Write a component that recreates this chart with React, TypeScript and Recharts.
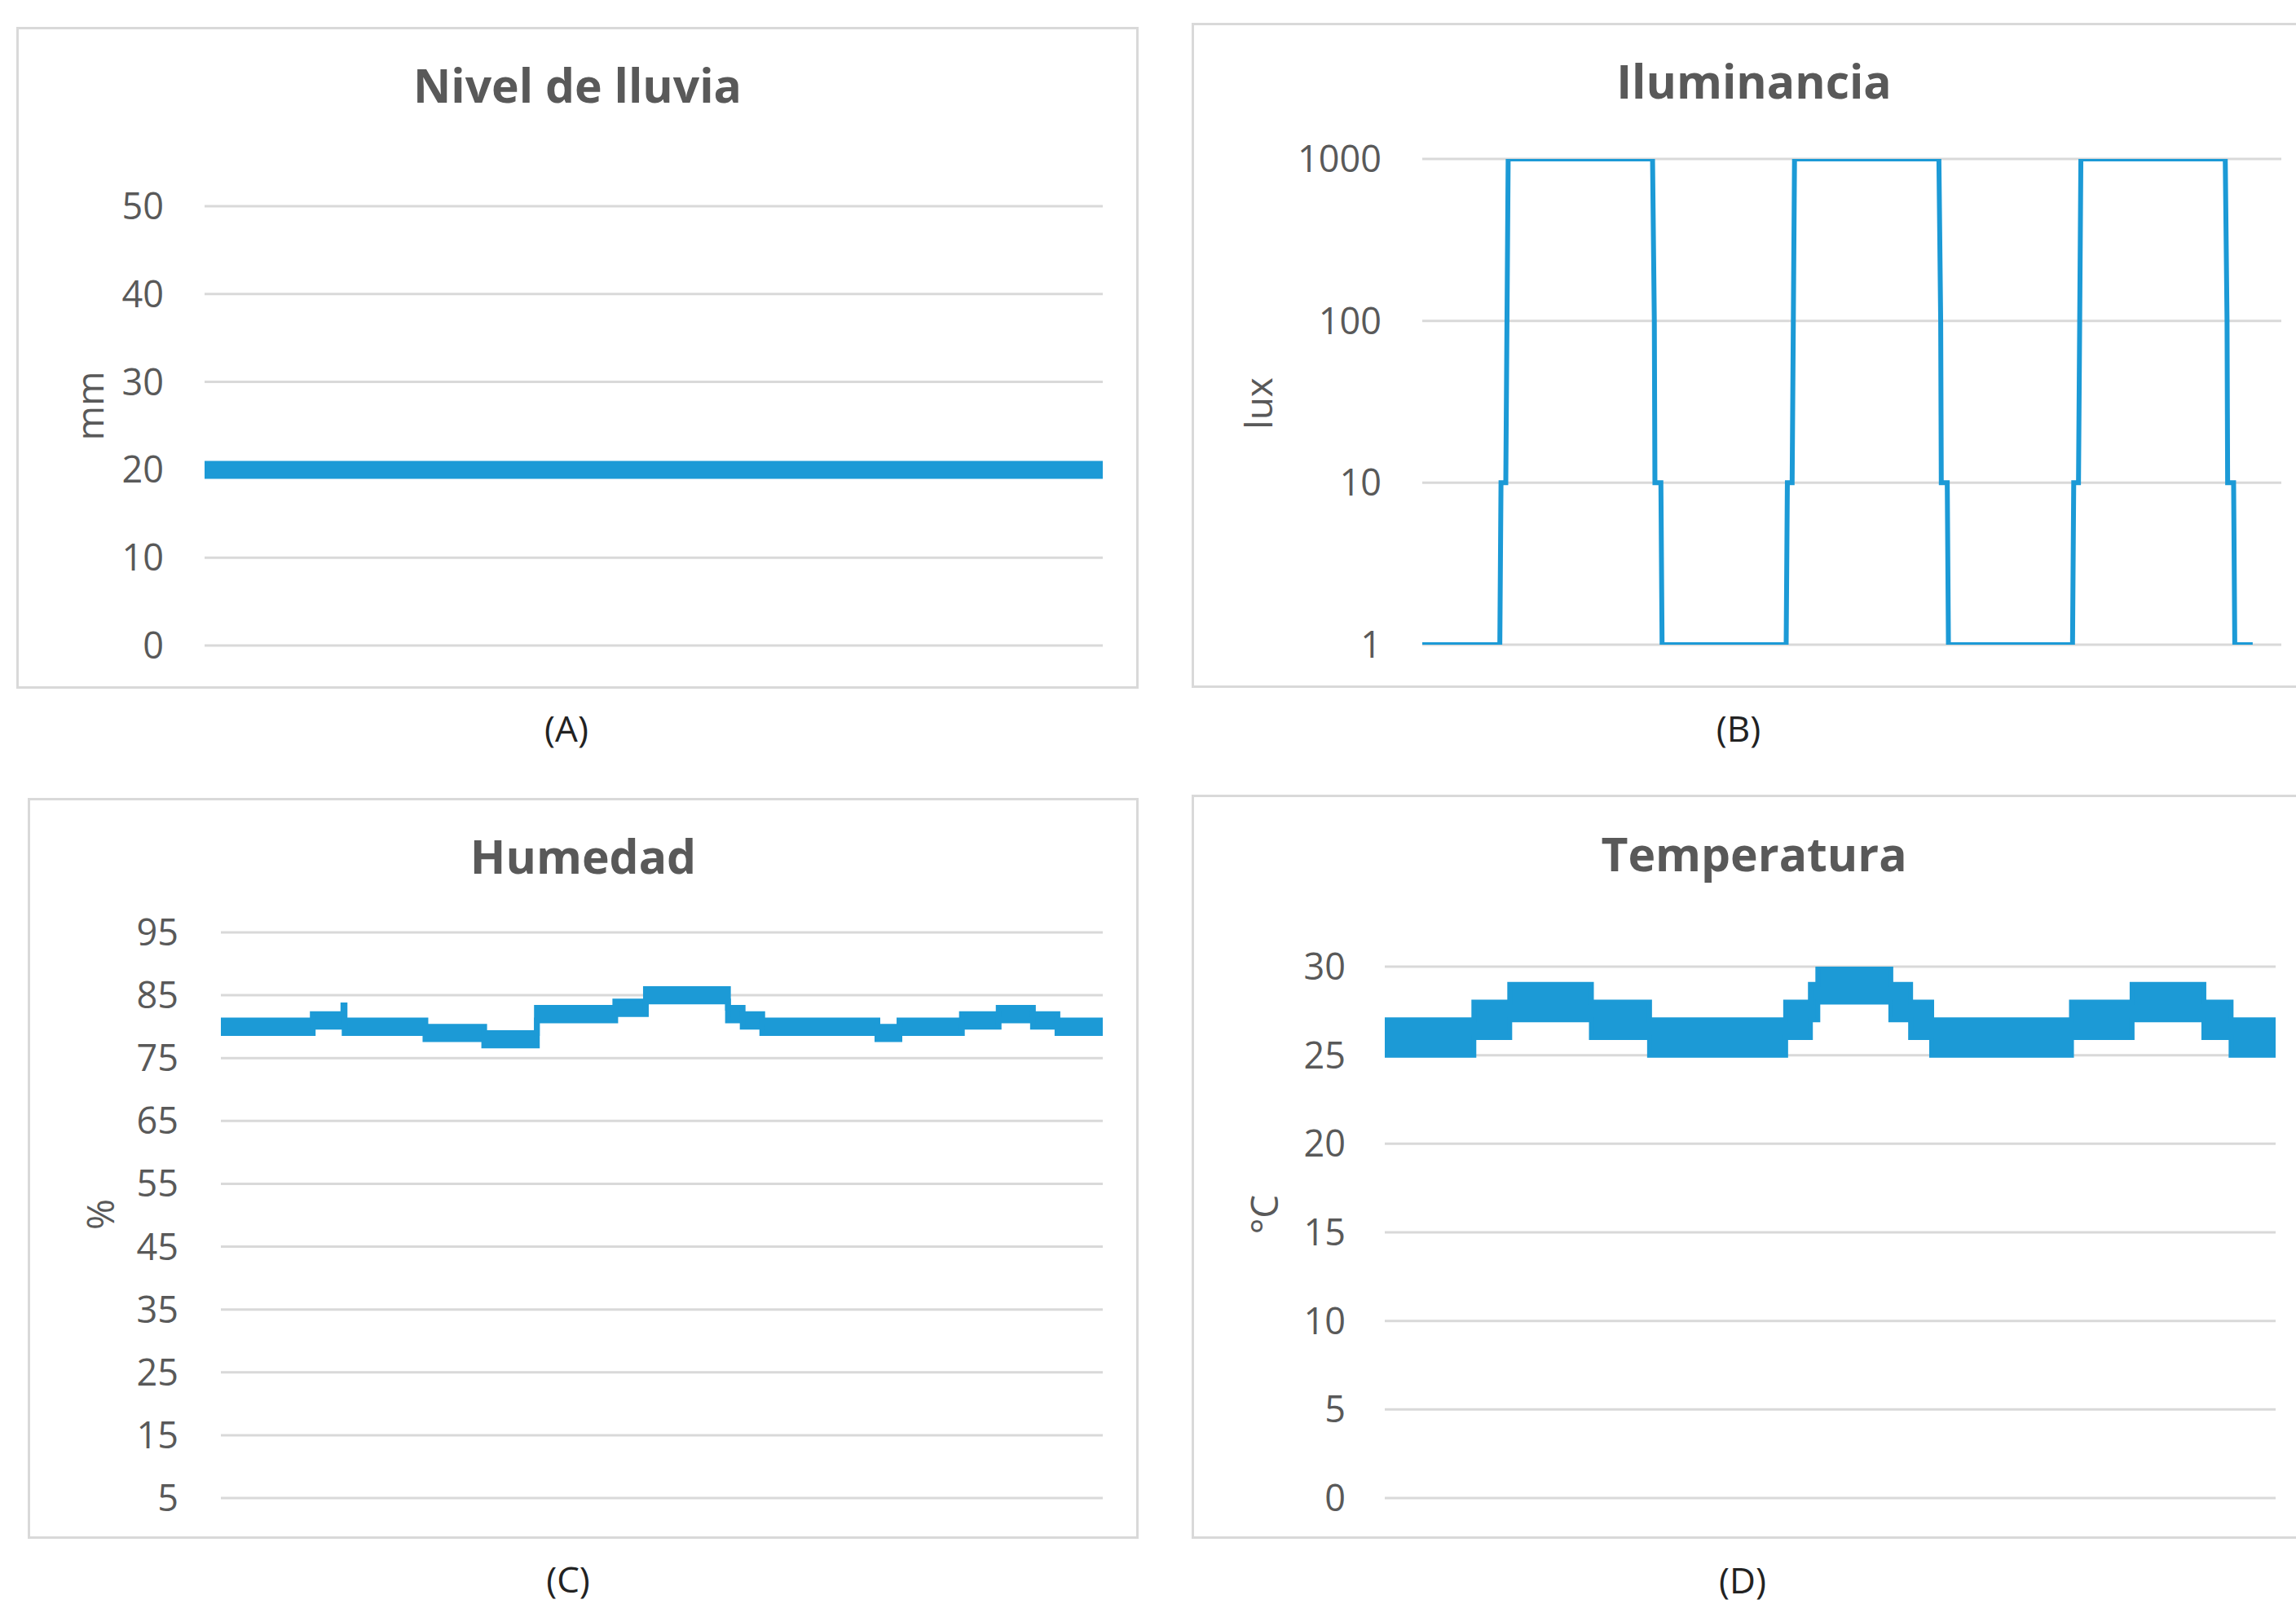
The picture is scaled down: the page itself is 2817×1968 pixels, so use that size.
import type { ReactNode } from "react"
import { ComposedChart, Line, Area, XAxis, YAxis, CartesianGrid } from "recharts"

const BLUE = "#1c9ad6"
const GRID = "#d9d9d9"
const TEXT = "#595959"
const FONT = "'Open Sans', sans-serif"

// Nivel de lluvia (mm) - hours over 3 days
const rainHours = [0, 72]
const rainLevel = [20, 20]
const rainTicks = [0, 10, 20, 30, 40, 50]

// Iluminancia (lux), log axis
const luxHours = [
  0, 6.5, 6.6, 7.0, 7.1, 7.2, 19.3, 19.45, 19.5, 20.0, 20.1,
  30.5, 30.6, 31.0, 31.1, 31.2, 43.3, 43.45, 43.5, 44.0, 44.1,
  54.5, 54.6, 55.0, 55.1, 55.2, 67.3, 67.45, 67.5, 68.0, 68.1, 69.6,
]
const luxValues = [
  1, 1, 10, 10, 100, 1000, 1000, 100, 10, 10, 1,
  1, 10, 10, 100, 1000, 1000, 100, 10, 10, 1,
  1, 10, 10, 100, 1000, 1000, 100, 10, 10, 1, 1,
]
const luxTicks = [1, 10, 100, 1000]

// Humedad (%) - band of readings per step
const humHours = [0, 7.5, 10.0, 10.1, 16.7, 21.5, 25.8, 32.2, 34.7, 41.4, 42.6, 44.2, 53.6, 55.4, 60.5, 63.5, 66.3, 68.3, 72]
const humLow = [79, 80, 80, 79, 78, 77, 81, 82, 84, 81, 80, 79, 78, 79, 80, 81, 80, 79, 79]
const humHigh = [81, 82, 83.4, 81, 80, 79, 83, 84, 86, 83, 82, 81, 80, 81, 82, 83, 82, 81, 81]
const humTicks = [5, 15, 25, 35, 45, 55, 65, 75, 85, 95]

// Temperatura (°C)
const tempHours = [0, 7.2, 10.1, 16.7, 21.4, 32.4, 34.4, 35.0, 40.9, 42.5, 44.2, 55.5, 60.4, 66.2, 68.4, 72]
const tempLow = [25, 26, 27, 26, 25, 26, 27, 28, 27, 26, 25, 26, 27, 26, 25, 25]
const tempHigh = [27, 28, 29, 28, 27, 28, 29, 30, 29, 28, 27, 28, 29, 28, 27, 27]
const tempTicks = [0, 5, 10, 15, 20, 25, 30]

const rainData = rainHours.map((t, i) => ({ t, v: rainLevel[i] }))
const luxData = luxHours.map((t, i) => ({ t, v: luxValues[i] }))
const humData = humHours.map((t, i) => ({ t, range: [humLow[i], humHigh[i]] }))
const tempData = tempHours.map((t, i) => ({ t, range: [tempLow[i], tempHigh[i]] }))

type Rect = { left: number; top: number; right: number; bottom: number }

function Panel({
  box,
  plot,
  title,
  titleY,
  unit,
  unitX,
  unitY,
  caption,
  captionX,
  captionY,
  data,
  ticks,
  domain,
  log,
  gap,
  children,
}: {
  box: Rect
  plot: Rect
  title: string
  titleY: number
  unit: string
  unitX: number
  unitY: number
  caption: string
  captionX: number
  captionY: number
  data: object[]
  ticks: number[]
  domain: [number, number]
  log?: boolean
  gap: number
  children: ReactNode
}) {
  const w = box.right - box.left
  const h = box.bottom - box.top
  return (
    <>
      <div
        style={{
          position: "absolute",
          left: box.left,
          top: box.top,
          width: w,
          height: h,
          boxSizing: "border-box",
          border: `3px solid ${GRID}`,
          background: "#fff",
        }}
      />
      <div style={{ position: "absolute", left: box.left, top: box.top }}>
        <ComposedChart
          width={w}
          height={h}
          data={data}
          margin={{
            top: plot.top - box.top,
            right: box.right - plot.right,
            bottom: box.bottom - plot.bottom,
            left: 0,
          }}
        >
          <CartesianGrid vertical={false} stroke={GRID} strokeWidth={3} />
          <XAxis type="number" dataKey="t" domain={[0, 72]} hide />
          <YAxis
            type="number"
            scale={log ? "log" : "auto"}
            domain={domain}
            ticks={ticks}
            interval={0}
            allowDataOverflow
            width={plot.left - box.left}
            axisLine={false}
            tickLine={false}
            tickSize={0}
            tickMargin={gap}
            tick={{ fill: TEXT, fontSize: 45, fontFamily: FONT }}
          />
          {children}
        </ComposedChart>
      </div>
      <div
        style={{
          position: "absolute",
          left: (box.left + box.right) / 2,
          top: titleY,
          transform: "translate(-50%, -50%)",
          fontFamily: FONT,
          fontWeight: 700,
          fontSize: 57,
          lineHeight: 1,
          color: TEXT,
          whiteSpace: "nowrap",
        }}
      >
        {title}
      </div>
      <div
        style={{
          position: "absolute",
          left: unitX,
          top: unitY,
          transform: "translate(-50%, -50%) rotate(-90deg)",
          fontFamily: FONT,
          fontSize: 46,
          lineHeight: 1,
          color: TEXT,
          whiteSpace: "nowrap",
        }}
      >
        {unit}
      </div>
      <div
        style={{
          position: "absolute",
          left: captionX,
          top: captionY,
          transform: "translate(-50%, -50%)",
          fontFamily: FONT,
          fontSize: 44,
          lineHeight: 1.1,
          color: "#222",
          whiteSpace: "nowrap",
        }}
      >
        {caption}
      </div>
    </>
  )
}

export default function App() {
  return (
    <div
      style={{
        position: "absolute",
        left: 0,
        top: 0,
        width: 2817,
        height: 1968,
        overflow: "hidden",
        background: "#fff",
      }}
    >
      <Panel
        box={{ left: 20, top: 33, right: 1397, bottom: 845 }}
        plot={{ left: 251, top: 253, right: 1353, bottom: 792 }}
        title="Nivel de lluvia"
        titleY={104}
        unit="mm"
        unitX={109}
        unitY={498}
        caption="(A)"
        captionX={695}
        captionY={893}
        data={rainData}
        ticks={rainTicks}
        domain={[0, 50]}
        gap={50}
      >
        <Line type="linear" dataKey="v" stroke={BLUE} strokeWidth={22} dot={false} activeDot={false} isAnimationActive={false} />
      </Panel>

      <Panel
        box={{ left: 1462, top: 28, right: 2842, bottom: 844 }}
        plot={{ left: 1745, top: 195, right: 2799, bottom: 791 }}
        title="Iluminancia"
        titleY={99}
        unit="lux"
        unitX={1543}
        unitY={495}
        caption="(B)"
        captionX={2133}
        captionY={893}
        data={luxData}
        ticks={luxTicks}
        domain={[1, 1000]}
        log
        gap={50}
      >
        <Line type="linear" dataKey="v" stroke={BLUE} strokeWidth={6} dot={false} activeDot={false} isAnimationActive={false} />
      </Panel>

      <Panel
        box={{ left: 34, top: 979, right: 1397, bottom: 1888 }}
        plot={{ left: 271, top: 1144, right: 1353, bottom: 1838 }}
        title="Humedad"
        titleY={1050}
        unit="%"
        unitX={122}
        unitY={1490}
        caption="(C)"
        captionX={697}
        captionY={1937}
        data={humData}
        ticks={humTicks}
        domain={[5, 95]}
        gap={52}
      >
        <Area
          type="stepAfter"
          dataKey="range"
          stroke={BLUE}
          strokeWidth={7}
          fill={BLUE}
          fillOpacity={1}
          dot={false}
          activeDot={false}
          isAnimationActive={false}
        />
      </Panel>

      <Panel
        box={{ left: 1462, top: 975, right: 2842, bottom: 1888 }}
        plot={{ left: 1699, top: 1186, right: 2792, bottom: 1838 }}
        title="Temperatura"
        titleY={1047}
        unit="°C"
        unitX={1550}
        unitY={1490}
        caption="(D)"
        captionX={2138}
        captionY={1938}
        data={tempData}
        ticks={tempTicks}
        domain={[0, 30]}
        gap={48}
      >
        <Area
          type="stepAfter"
          dataKey="range"
          stroke={BLUE}
          strokeWidth={6}
          fill={BLUE}
          fillOpacity={1}
          dot={false}
          activeDot={false}
          isAnimationActive={false}
        />
      </Panel>
    </div>
  )
}
